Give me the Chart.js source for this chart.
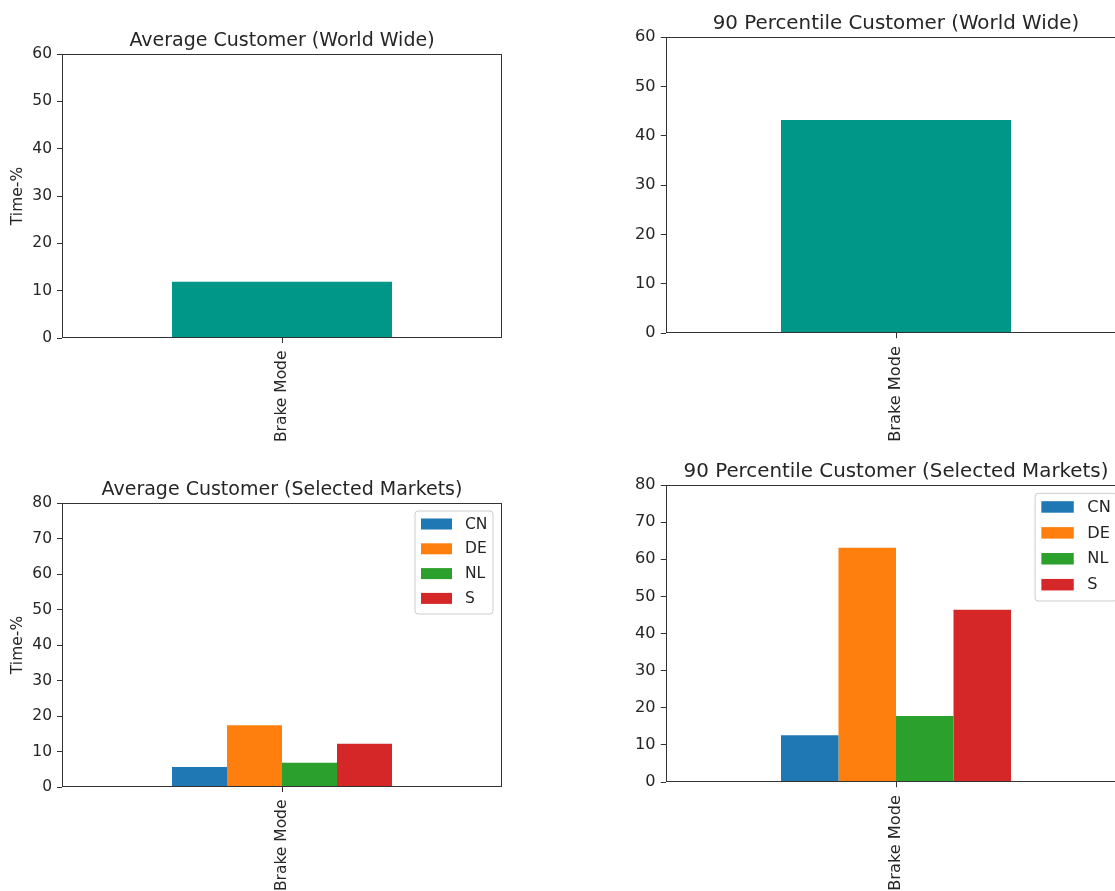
<!DOCTYPE html>
<html>
<head>
<meta charset="utf-8">
<script src="https://cdn.jsdelivr.net/npm/chart.js@4/dist/chart.umd.min.js"></script>
<style>
html,body{margin:0;padding:0;background:#fff;overflow:hidden;width:1115px;height:891px;}
canvas{position:absolute;}
</style>
</head>
<body>
<canvas id="c1" width="520" height="426" style="left:0px;top:22px"></canvas>
<canvas id="c2" width="540" height="438" style="left:604px;top:5px"></canvas>
<canvas id="c3" width="520" height="426" style="left:0px;top:471px"></canvas>
<canvas id="c4" width="540" height="439" style="left:604px;top:453px"></canvas>
<script>
// ---- data ----
const categories = ['Brake Mode'];
const avgWorld = [11.9];
const p90World = [43.2];
const markets = ['CN', 'DE', 'NL', 'S'];
const avgMarkets = [5.6, 17.4, 6.8, 12.2];
const p90Markets = [12.6, 63.1, 17.8, 46.4];
const worldTicksMax = 60;
const marketTicksMax = 80;

// ---- styles ----
const FONT = "'DejaVu Sans'";
const TEXT = '#262626';
const AXIS = '#333333';
const TEAL = '#009688';
const marketColors = ['#1f77b4', '#ff7f0e', '#2ca02c', '#d62728'];
const TICK_SIZE = 15.5;
const TITLE_SIZE = 19;

Chart.defaults.font.family = FONT;

const framePlugin = {
  id: 'frame',
  afterDatasetsDraw(chart) {
    const a = chart.chartArea, ctx = chart.ctx;
    ctx.save();
    ctx.strokeStyle = AXIS;
    ctx.lineWidth = 1;
    const l = Math.round(a.left) + 0.5, t = Math.round(a.top) + 0.5;
    const r = Math.round(a.right) - 0.5, b = Math.round(a.bottom) - 0.5;
    ctx.strokeRect(l, t, r - l, b - t);
    ctx.restore();
  }
};

const axTitlePlugin = {
  id: 'axTitle',
  afterDraw(chart, args, opts) {
    if (!opts || !opts.text) return;
    const s = opts.scale || 1;
    const a = chart.chartArea, ctx = chart.ctx;
    ctx.save();
    ctx.font = (TITLE_SIZE * s) + 'px ' + FONT;
    ctx.fillStyle = TEXT;
    ctx.textAlign = 'center';
    ctx.textBaseline = 'alphabetic';
    ctx.fillText(opts.text, (a.left + a.right) / 2, a.top - 7.7 * s);
    ctx.restore();
  }
};

const boxLegendPlugin = {
  id: 'boxLegend',
  afterDraw(chart, args, opts) {
    if (!opts || !opts.show) return;
    const s = opts.scale || 1;
    const a = chart.chartArea, ctx = chart.ctx;
    const w = 78 * s, h = 103 * s;
    const x0 = a.right - 9 * s - w, y0 = a.top + 8 * s;
    ctx.save();
    ctx.beginPath();
    const rr = 3;
    ctx.moveTo(x0 + rr, y0);
    ctx.arcTo(x0 + w, y0, x0 + w, y0 + h, rr);
    ctx.arcTo(x0 + w, y0 + h, x0, y0 + h, rr);
    ctx.arcTo(x0, y0 + h, x0, y0, rr);
    ctx.arcTo(x0, y0, x0 + w, y0, rr);
    ctx.closePath();
    ctx.fillStyle = 'rgba(255,255,255,0.8)';
    ctx.fill();
    ctx.strokeStyle = '#cccccc';
    ctx.lineWidth = 1;
    ctx.stroke();
    ctx.font = (TICK_SIZE * s) + 'px ' + FONT;
    ctx.textBaseline = 'middle';
    ctx.textAlign = 'left';
    chart.data.datasets.forEach((ds, i) => {
      const cy = y0 + 13 * s + i * 24.8 * s;
      ctx.fillStyle = ds.backgroundColor;
      ctx.fillRect(x0 + 6 * s, cy - 5.5 * s, 31 * s, 11 * s);
      ctx.fillStyle = TEXT;
      ctx.fillText(ds.label, x0 + 50 * s, cy + 0.5);
    });
    ctx.restore();
  }
};

function makeChart(id, title, datasets, ymax, showYTitle, showLegend, s) {
  const tickFont = { family: FONT, size: TICK_SIZE * s };
  return new Chart(document.getElementById(id), {
    type: 'bar',
    data: { labels: categories, datasets: datasets },
    plugins: [framePlugin, axTitlePlugin, boxLegendPlugin],
    options: {
      responsive: false,
      animation: false,
      devicePixelRatio: 1,
      layout: { padding: { left: 0, top: 32, right: 18, bottom: 0 } },
      datasets: { bar: { categoryPercentage: 0.5, barPercentage: 1.0, borderWidth: 0 } },
      plugins: {
        legend: { display: false },
        tooltip: { enabled: false },
        title: { display: false },
        axTitle: { text: title, scale: s },
        boxLegend: { show: showLegend, scale: s }
      },
      scales: {
        x: {
          grid: { display: true, drawOnChartArea: false, drawTicks: true, tickLength: 5 * s, color: AXIS, offset: false },
          border: { display: false },
          ticks: { minRotation: 90, maxRotation: 90, autoSkip: false, font: tickFont, color: TEXT, padding: 7.5 * s },
          afterFit(sc) { sc.height = 110; }
        },
        y: {
          min: 0, max: ymax,
          grid: { display: true, drawOnChartArea: false, drawTicks: true, tickLength: 5 * s, color: AXIS },
          border: { display: false },
          ticks: { stepSize: 10, font: tickFont, color: TEXT, padding: 5 * s },
          title: { display: showYTitle, text: 'Time-%', color: TEXT, font: tickFont, padding: { top: 8.5, bottom: 0 } },
          afterFit(sc) { sc.width = 62; }
        }
      }
    }
  });
}

makeChart('c1', 'Average Customer (World Wide)',
  [{ label: 'Brake Mode', data: avgWorld, backgroundColor: TEAL }],
  worldTicksMax, true, false, 1);

makeChart('c2', '90 Percentile Customer (World Wide)',
  [{ label: 'Brake Mode', data: p90World, backgroundColor: TEAL }],
  worldTicksMax, false, false, 1.045);

makeChart('c3', 'Average Customer (Selected Markets)',
  markets.map((m, i) => ({ label: m, data: [avgMarkets[i]], backgroundColor: marketColors[i] })),
  marketTicksMax, true, true, 1);

makeChart('c4', '90 Percentile Customer (Selected Markets)',
  markets.map((m, i) => ({ label: m, data: [p90Markets[i]], backgroundColor: marketColors[i] })),
  marketTicksMax, false, true, 1.045);
</script>
</body>
</html>
